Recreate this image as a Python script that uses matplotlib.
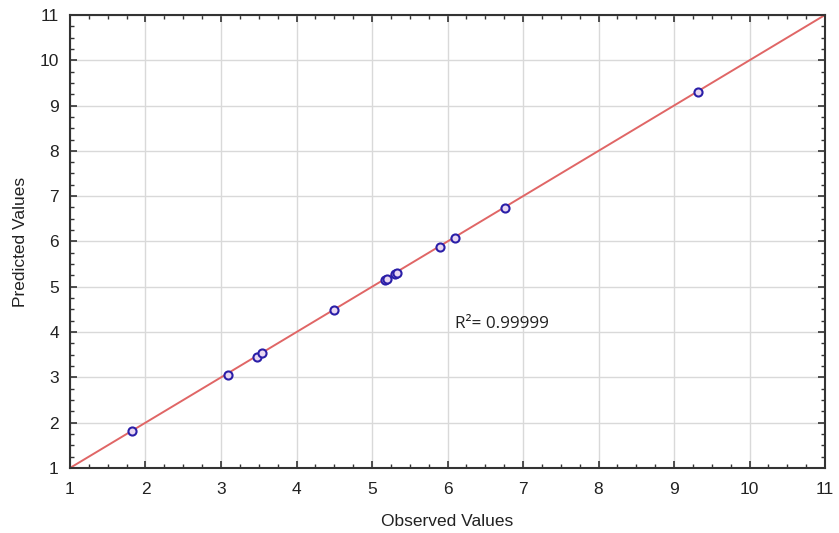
import matplotlib.pyplot as plt
from matplotlib.ticker import MultipleLocator

plt.rcParams['font.family'] = ['Liberation Sans', 'DejaVu Sans']

# observed vs predicted values
observed = [1.82, 3.09, 3.48, 3.54, 4.49, 5.17, 5.20, 5.31, 5.33, 5.90, 6.10, 6.76, 9.32]
predicted = [1.82, 3.05, 3.46, 3.53, 4.49, 5.16, 5.17, 5.28, 5.31, 5.88, 6.08, 6.73, 9.30]
r2_text = "R\u00b2= 0.99999"

fig = plt.figure(figsize=(8.39, 5.33), dpi=100)
ax = fig.add_axes([0.0834, 0.122, 0.9, 0.85])

ax.plot([1, 11], [1, 11], color='#e06666', lw=1.4, zorder=2)
ax.scatter(observed, predicted, s=34, facecolors='#e9d8f2', edgecolors='#2b1fa8',
           linewidths=1.5, zorder=3)

ax.set_xlim(1, 11)
ax.set_ylim(1, 11)
ax.xaxis.set_major_locator(MultipleLocator(1))
ax.yaxis.set_major_locator(MultipleLocator(1))
ax.xaxis.set_minor_locator(MultipleLocator(0.25))
ax.yaxis.set_minor_locator(MultipleLocator(0.25))
ax.tick_params(which='both', direction='in', top=True, right=True, labelsize=12.5,
               color='#333333', labelcolor='#222222')
ax.tick_params(which='major', length=5, width=1.2)
ax.tick_params(which='minor', length=3, width=1)
ax.tick_params(axis='x', which='major', pad=10)
ax.tick_params(axis='y', which='major', pad=8)
ax.grid(True, which='major', color='#d9d9d9', lw=1)
ax.set_axisbelow(True)
for sp in ax.spines.values():
    sp.set_linewidth(1.5)
    sp.set_color('#333333')

ax.set_xlabel('Observed Values', fontsize=12.5, color='#222222', labelpad=12)
ax.set_ylabel('Predicted Values', fontsize=12.5, color='#222222', labelpad=8)

ax.text(6.1, 4.17, r2_text, fontsize=12.3, color='#222222', va='center',
        family=['Open Sans', 'DejaVu Sans'])

plt.savefig('out.png')
